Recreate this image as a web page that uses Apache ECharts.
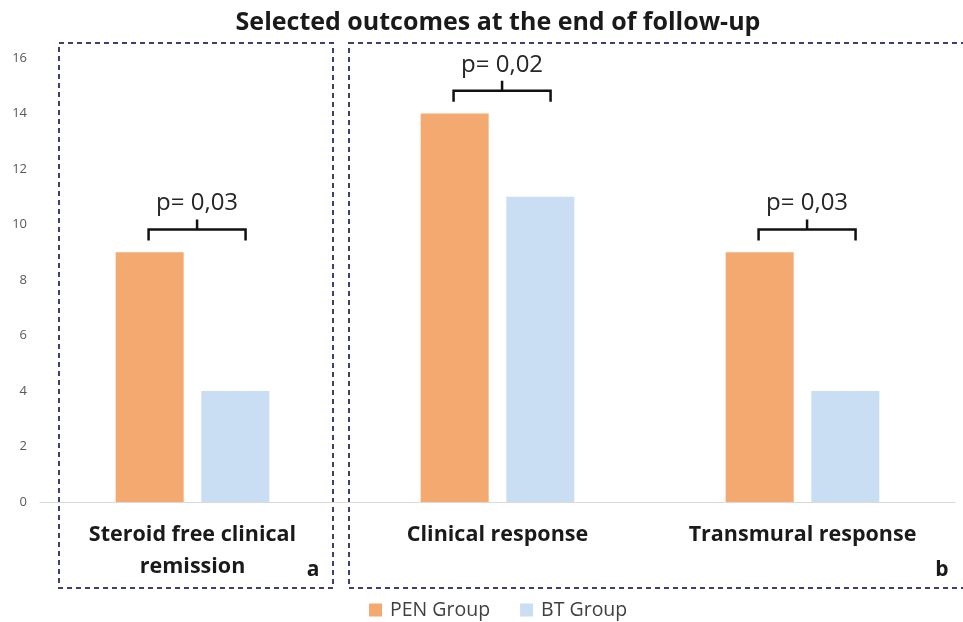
<!DOCTYPE html>
<html>
<head>
<meta charset="utf-8">
<script src="https://cdn.jsdelivr.net/npm/echarts@6/dist/echarts.min.js"></script>
<style>
html,body{margin:0;padding:0;background:#fff;}
#main{width:963px;height:622px;}
</style>
</head>
<body>
<div id="main"></div>
<script>
// ---- data ----
const categories = ['Steroid free clinical\nremission', 'Clinical response', 'Transmural response'];
const penValues = [9, 14, 9];
const btValues = [4, 11, 4];
const pLabels = ['p= 0,03', 'p= 0,02', 'p= 0,03'];
const yTicks = [0, 2, 4, 6, 8, 10, 12, 14, 16];
const seriesNames = ['PEN Group', 'BT Group'];
const panelLetters = ['a', 'b'];

// bracket level = higher bar + offset (data units)
const bracketData = categories.map((c, i) => [i, Math.max(penValues[i], btValues[i]) + 0.82, pLabels[i]]);

const FONT = '"Open Sans", "Noto Sans", sans-serif';
const chart = echarts.init(document.getElementById('main'), null, {renderer: 'canvas'});

const dashStyle = {stroke: '#3E416F', lineWidth: 2, lineDash: [5, 4], fill: null};

chart.setOption({
  animation: false,
  backgroundColor: '#ffffff',
  title: {
    text: 'Selected outcomes at the end of follow-up',
    left: 493, textAlign: 'center', top: 5,
    textStyle: {fontFamily: FONT, fontWeight: 'bold', fontSize: 25, color: '#1a1a1a'}
  },
  legend: {
    data: seriesNames,
    bottom: -3, left: 364,
    itemWidth: 13, itemHeight: 13, itemGap: 30,
    icon: 'rect',
    textStyle: {fontFamily: FONT, fontSize: 19.5, color: '#404040', padding: [0, 0, 0, 3]}
  },
  grid: {left: 40, right: 8, top: 58, bottom: 120},
  xAxis: {
    type: 'category',
    data: categories,
    axisLine: {lineStyle: {color: '#D9D9D9', width: 1}},
    axisTick: {show: false},
    axisLabel: {
      fontFamily: FONT, fontWeight: 'bold', fontSize: 21.5, color: '#1a1a1a',
      lineHeight: 32, margin: 17, interval: 0
    }
  },
  yAxis: {
    type: 'value', min: 0, max: 16, interval: 2,
    axisLine: {show: false}, axisTick: {show: false},
    splitLine: {show: false},
    axisLabel: {fontFamily: FONT, fontSize: 13, color: '#595959', margin: 13,
      formatter: v => yTicks.includes(v) ? String(v) : ''}
  },
  series: [
    {name: seriesNames[0], type: 'bar', data: penValues, barWidth: 68, barGap: '26%',
      itemStyle: {color: '#F3A96F'}},
    {name: seriesNames[1], type: 'bar', data: btValues, barWidth: 68,
      itemStyle: {color: '#C9DEF3'}},
    {
      name: 'brackets', type: 'custom', data: bracketData, silent: true, z: 5,
      renderItem: function (params, api) {
        const p = api.coord([api.value(0), api.value(1)]);
        const band = api.size([1, 0])[0];
        const x1 = p[0] - band * 0.144, x2 = p[0] + band * 0.174;
        const xm = (x1 + x2) / 2, yh = p[1];
        const lbl = bracketData[params.dataIndex][2];
        return {
          type: 'group',
          children: [
            {type: 'polyline', shape: {points: [[x1, yh + 11], [x1, yh], [x2, yh], [x2, yh + 11]]},
              style: {stroke: '#111', lineWidth: 2.5, fill: null}},
            {type: 'line', shape: {x1: xm, y1: yh, x2: xm, y2: yh - 10},
              style: {stroke: '#111', lineWidth: 2.5}},
            {type: 'text', x: xm, y: yh - 26,
              style: {text: lbl, fontFamily: FONT, fontSize: 24, fill: '#262626',
                textAlign: 'center', textVerticalAlign: 'middle'}}
          ]
        };
      }
    }
  ],
  graphic: [
    {type: 'rect', shape: {x: 59, y: 43, width: 274, height: 545}, style: dashStyle, silent: true},
    {type: 'rect', shape: {x: 349, y: 43, width: 630, height: 545}, style: dashStyle, silent: true},
    {type: 'text', x: 313, y: 570, style: {text: panelLetters[0], fontFamily: FONT, fontWeight: 'bold', fontSize: 21, fill: '#1a1a1a', textAlign: 'center', textVerticalAlign: 'middle'}},
    {type: 'text', x: 942, y: 570, style: {text: panelLetters[1], fontFamily: FONT, fontWeight: 'bold', fontSize: 21, fill: '#1a1a1a', textAlign: 'center', textVerticalAlign: 'middle'}}
  ]
});
</script>
</body>
</html>
